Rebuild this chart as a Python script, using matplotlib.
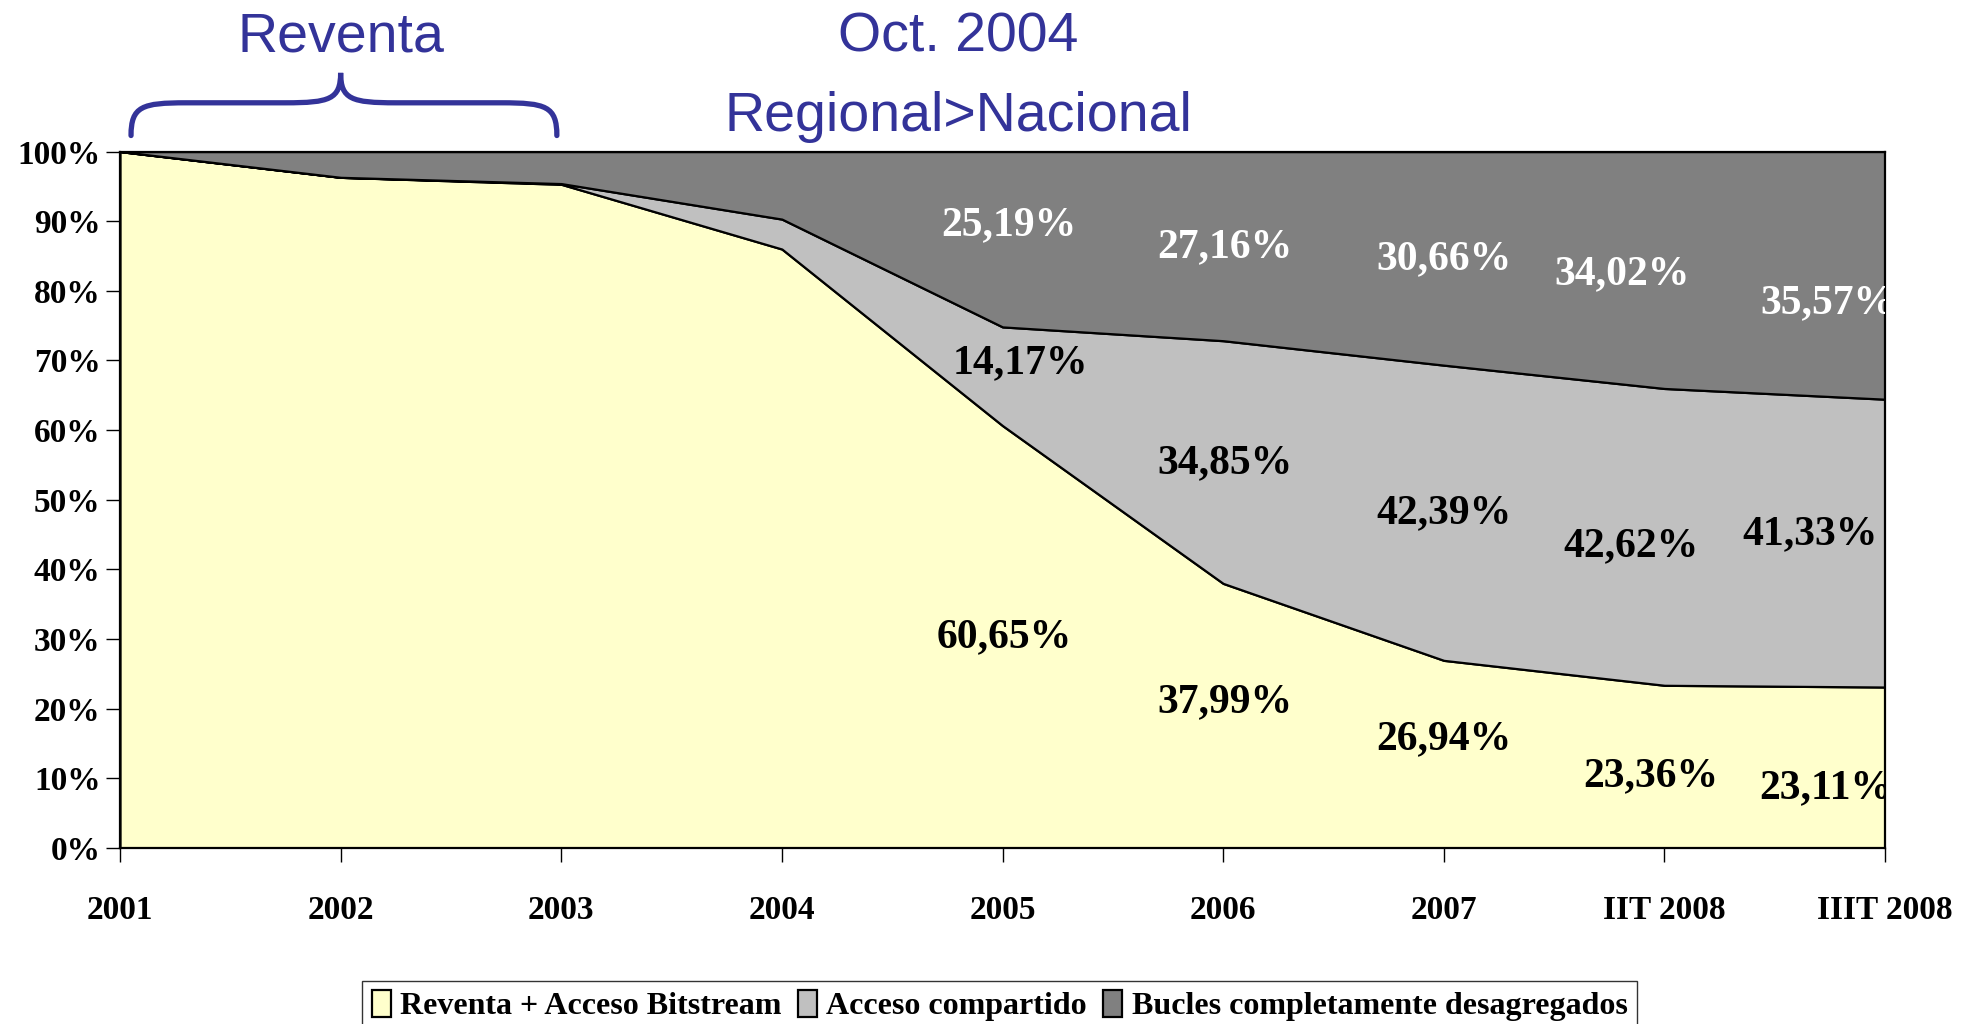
import numpy as np
import matplotlib.pyplot as plt
from matplotlib.path import Path
from matplotlib.patches import PathPatch

# categories and shares (%)
periods = ["2001", "2002", "2003", "2004", "2005", "2006", "2007", "IIT 2008", "IIIT 2008"]
reventa = [100.0, 96.3, 95.3, 86.0, 60.65, 37.99, 26.94, 23.36, 23.11]
compartido = [0.0, 0.0, 0.1, 4.3, 14.17, 34.85, 42.39, 42.62, 41.33]
bucles = [0.0, 3.7, 4.6, 9.7, 25.19, 27.16, 30.66, 34.02, 35.57]
series_names = ["Reventa + Acceso Bitstream", "Acceso compartido",
                "Bucles completamente desagregados"]

# labelled values (from 2005 on) and where they sit
lab_reventa = ["60,65%", "37,99%", "26,94%", "23,36%", "23,11%"]
lab_compartido = ["14,17%", "34,85%", "42,39%", "42,62%", "41,33%"]
lab_bucles = ["25,19%", "27,16%", "30,66%", "34,02%", "35,57%"]
pos_reventa = [(4.01, 30.2), (5.01, 21.0), (6.0, 15.6), (6.94, 10.3), (7.73, 8.6)]
pos_compartido = [(4.08, 69.6), (5.01, 55.2), (6.0, 48.0), (6.85, 43.3), (7.66, 45.0)]
pos_bucles = [(4.03, 89.4), (5.01, 86.3), (6.0, 84.5), (6.81, 82.4), (7.74, 78.2)]

colors = ["#FFFFCC", "#C0C0C0", "#808080"]
blue = "#333399"
serif = ["Liberation Serif", "DejaVu Serif"]
sans = ["Liberation Sans", "DejaVu Sans"]

fig = plt.figure(figsize=(19.64, 10.24), dpi=100)
ax = fig.add_axes([0.0611, 0.1719, 0.8987, 0.6801])

x = np.arange(len(periods))
polys = ax.stackplot(x, reventa, compartido, bucles, colors=colors,
                     edgecolor="black", linewidth=1.6, labels=series_names)

ax.set_xlim(0, len(periods) - 1)
ax.set_ylim(0, 100)
ax.set_xticks(x)
ax.set_xticklabels(periods, fontfamily=serif, fontweight="bold", fontsize=24)
ax.set_yticks(np.arange(0, 101, 10))
ax.set_yticklabels([f"{v}%" for v in range(0, 101, 10)],
                   fontfamily=serif, fontweight="bold", fontsize=24)
ax.tick_params(axis="x", direction="out", length=10, width=1, pad=24)
ax.tick_params(axis="y", direction="out", length=10, width=1, pad=4)
for s in ax.spines.values():
    s.set_color("black")
    s.set_linewidth(1.6)

for txts, poss, col in [(lab_reventa, pos_reventa, "black"),
                        (lab_compartido, pos_compartido, "black"),
                        (lab_bucles, pos_bucles, "white")]:
    for t, (px, py) in zip(txts, poss):
        ax.text(px, py, t, ha="center", va="center", color=col,
                fontfamily=serif, fontweight="bold", fontsize=30, clip_on=True)

# annotations above the plot
ax.text(1.0, 116.4, "Reventa", ha="center", va="center", color=blue,
        fontfamily=sans, fontsize=40, clip_on=False)
ax.text(3.8, 116.4, "Oct. 2004", ha="center", va="center", color=blue,
        fontfamily=sans, fontsize=40, clip_on=False)
ax.text(3.8, 105.0, "Regional>Nacional", ha="center", va="center", color=blue,
        fontfamily=sans, fontsize=40, clip_on=False)

# curly brace over 2001-2003
x0, x1, xm = 0.05, 1.98, 1.0
yb, ym, yt = 102.3, 107.0, 111.3
verts = [(x0, yb), (x0, ym - 0.5), (x0 + 0.05, ym), (x0 + 0.25, ym),
         (xm - 0.25, ym),
         (xm - 0.05, ym), (xm, ym + 0.5), (xm, yt),
         (xm, ym + 0.5), (xm + 0.05, ym), (xm + 0.25, ym),
         (x1 - 0.25, ym),
         (x1 - 0.05, ym), (x1, ym - 0.5), (x1, yb)]
codes = [Path.MOVETO, Path.CURVE4, Path.CURVE4, Path.CURVE4,
         Path.LINETO,
         Path.CURVE4, Path.CURVE4, Path.CURVE4,
         Path.CURVE4, Path.CURVE4, Path.CURVE4,
         Path.LINETO,
         Path.CURVE4, Path.CURVE4, Path.CURVE4]
brace = PathPatch(Path(verts, codes), facecolor="none", edgecolor=blue,
                  linewidth=3.8, clip_on=False, capstyle="round")
ax.add_patch(brace)

leg = fig.legend(handles=polys, labels=series_names, loc="upper center",
                 bbox_to_anchor=(0.509, 0.058), ncol=3, frameon=True,
                 fancybox=False, edgecolor="black", handlelength=0.6,
                 handleheight=0.9, handletextpad=0.3, columnspacing=0.5,
                 borderpad=0.3, prop={"family": serif, "weight": "bold", "size": 23})
leg.get_frame().set_linewidth(1.0)

fig.savefig("out.png", dpi=100)
